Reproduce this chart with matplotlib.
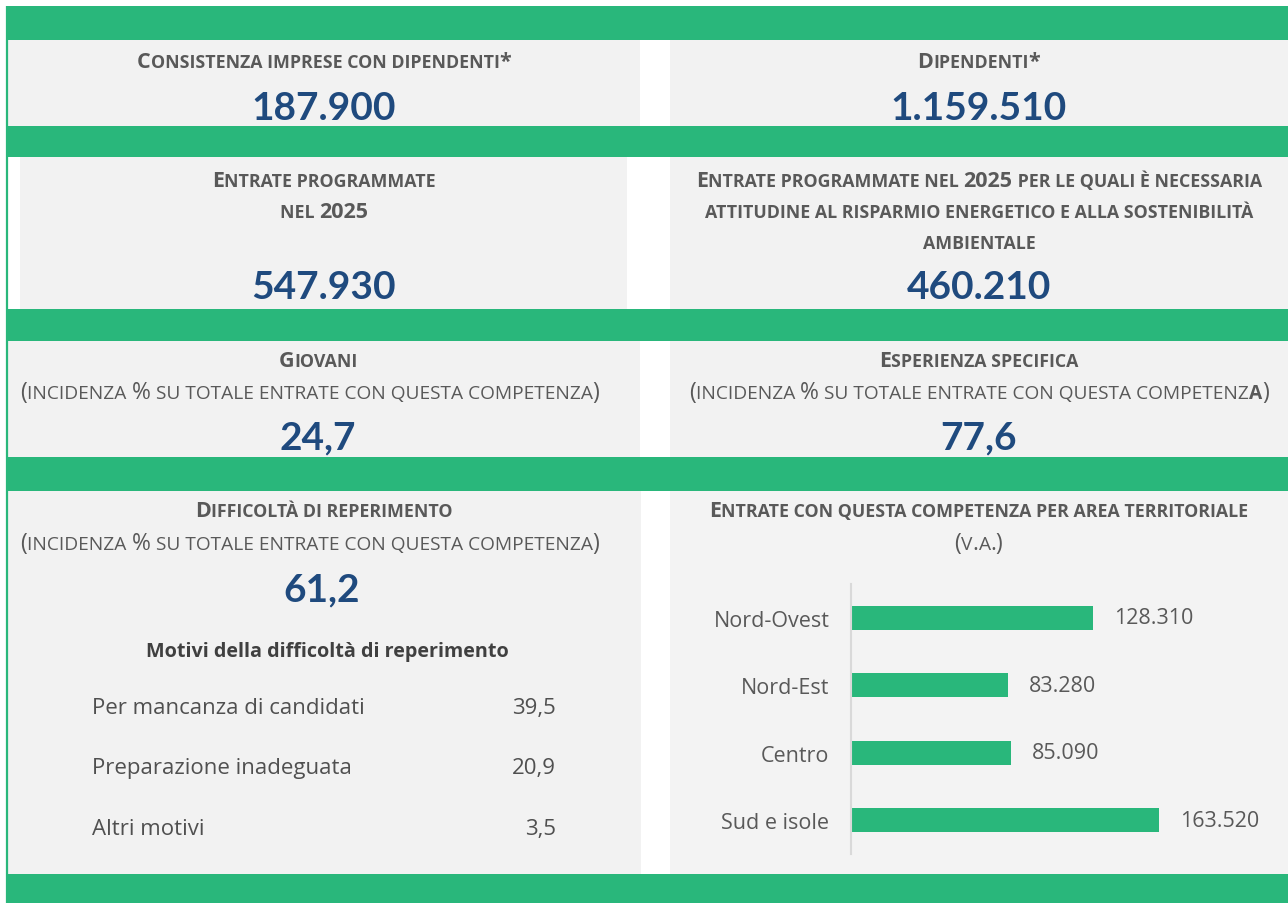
import matplotlib
matplotlib.use("Agg")
import matplotlib.pyplot as plt
from matplotlib.patches import Rectangle

# ---------------- data ----------------
kpi_imprese = 187900
kpi_dipendenti = 1159510
kpi_entrate = 547930
kpi_entrate_green = 460210
kpi_giovani = 24.7
kpi_esperienza = 77.6
kpi_difficolta = 61.2

motivi_labels = ["Per mancanza di candidati", "Preparazione inadeguata", "Altri motivi"]
motivi_values = [39.5, 20.9, 3.5]

regions = ["Nord-Ovest", "Nord-Est", "Centro", "Sud e isole"]
region_values = [128310, 83280, 85090, 163520]

# ---------------- style ----------------
FONT = "Open Sans"
NUMFONT = "Lato"
GREEN = "#29B77B"
PANEL = "#F2F2F2"
BLUE = "#1F4A7E"
GREY = "#595959"
DARK = "#505050"

def it_int(v):
    return f"{v:,}".replace(",", ".")

def it_dec(v):
    return f"{v:.1f}".replace(".", ",")

W, H = 1288, 904
fig = plt.figure(figsize=(W / 100, H / 100), dpi=100)
fig.patch.set_facecolor("white")
ax = fig.add_axes([0, 0, 1, 1])
ax.set_xlim(0, W)
ax.set_ylim(H, 0)
ax.axis("off")

def rect(x0, y0, x1, y1, color):
    ax.add_patch(Rectangle((x0, y0), x1 - x0, y1 - y0, facecolor=color,
                           edgecolor="none", zorder=0))

# green bands
for y0, y1 in [(7, 41), (127, 158), (310, 342), (458, 492), (875, 904)]:
    rect(7, y0, W, y1, GREEN)
# panels
rect(8, 41, 640, 127, PANEL)
rect(670, 41, W, 127, PANEL)
rect(20, 158, 627, 310, PANEL)
rect(670, 158, W, 310, PANEL)
rect(8, 342, 640, 458, PANEL)
rect(670, 342, W, 458, PANEL)
rect(8, 492, 641, 875, PANEL)
rect(670, 492, W, 875, "#F3F3F3")
# left border line
ax.plot([7, 7], [7, 904], color=GREEN, lw=1.6, zorder=1, solid_capstyle="butt")

renderer = fig.canvas.get_renderer()
_cache = {}

def text_width(s, size, weight):
    key = (s, size, weight)
    if key not in _cache:
        def m(t):
            o = ax.text(0, 0, t, fontsize=size, fontweight=weight, family=FONT)
            w = o.get_window_extent(renderer).width
            o.remove()
            return w
        _cache[key] = m("|" + s + "|") - m("||")
    return _cache[key]

def sc_line(cx, y, segments, big, small, color):
    """Small caps line: lowercase chars (and spaces) drawn as small uppercase."""
    runs = []
    for s, weight in segments:
        for ch in s:
            if ch.islower() or ch == " ":
                r = [ch.upper(), small, weight]
            else:
                r = [ch, big, weight]
            if runs and runs[-1][1] == r[1] and runs[-1][2] == r[2]:
                runs[-1][0] += r[0]
            else:
                runs.append(r)
    widths = [text_width(r[0], r[1], r[2]) for r in runs]
    x = cx - sum(widths) / 2
    for r, w in zip(runs, widths):
        ax.text(x, y, r[0], fontsize=r[1], fontweight=r[2], family=FONT,
                color=color, va="baseline", ha="left", zorder=3)
        x += w

def number(cx, y, s):
    ax.text(cx, y, s, fontsize=28, fontweight="bold", family=NUMFONT, color=BLUE,
            ha="center", va="baseline", zorder=3)

HB, HS = 15.5, 12.8   # header big/small sizes
SB, SS = 16.5, 13.8   # sub header

LC, RC = 324, 979
LSUB = 310

# Row 1
sc_line(LC, 68, [("Consistenza imprese con dipendenti*", "bold")], HB, HS, GREY)
number(LC, 120, it_int(kpi_imprese))
sc_line(RC, 68, [("Dipendenti*", "bold")], HB, HS, GREY)
number(RC, 120, it_int(kpi_dipendenti))

# Row 2
sc_line(LC, 187, [("Entrate programmate", "bold")], HB, HS, GREY)
sc_line(LC, 218, [("nel 2025", "bold")], HB, HS, GREY)
number(LC, 299, it_int(kpi_entrate))
sc_line(RC, 187, [("Entrate programmate nel 2025 per le quali è necessaria", "bold")], HB, HS, GREY)
sc_line(RC, 218, [("attitudine al risparmio energetico e alla sostenibilità", "bold")], HB, HS, GREY)
sc_line(RC, 249, [("ambientale", "bold")], HB, HS, GREY)
number(RC, 299, it_int(kpi_entrate_green))

# Row 3
sc_line(LC - 6, 367, [("Giovani", "bold")], HB, HS, GREY)
sc_line(LSUB, 399, [("(incidenza % su totale entrate con questa competenza)", "normal")], SB, SS, GREY)
number(LC - 6, 449, it_dec(kpi_giovani))
sc_line(RC, 367, [("Esperienza specifica", "bold")], HB, HS, GREY)
sc_line(RC, 399, [("(incidenza % su totale entrate con questa competenz", "normal"),
                  ("a", "bold"), (")", "normal")], SB, SS, GREY)
number(RC, 449, it_dec(kpi_esperienza))

# Row 4 left
sc_line(LC, 517, [("Difficoltà di reperimento", "bold")], HB, HS, GREY)
sc_line(LSUB, 550, [("(incidenza % su totale entrate con questa competenza)", "normal")], SB, SS, GREY)
number(LC - 2, 601, it_dec(kpi_difficolta))
ax.text(327, 657, "Motivi della difficoltà di reperimento", fontsize=14.2,
        fontweight="bold", family=FONT, color="#404040", ha="center", va="baseline")
for i, (lab, val) in enumerate(zip(motivi_labels, motivi_values)):
    yy = 714 + i * 60.5
    ax.text(92, yy, lab, fontsize=16, family=FONT, color=DARK, ha="left", va="baseline")
    ax.text(556, yy, it_dec(val), fontsize=16, family=FONT, color=DARK, ha="right", va="baseline")

# Row 4 right
sc_line(RC, 517, [("Entrate con questa competenza per area territoriale", "bold")], HB, HS, GREY)
sc_line(RC, 550, [("(v.a.)", "normal")], SB, SS, GREY)

# bar chart
x0, x1, y0, y1 = 851, 1270, 585, 855
bax = fig.add_axes([x0 / W, 1 - y1 / H, (x1 - x0) / W, (y1 - y0) / H])
bax.set_facecolor("none")
ypos = list(range(len(regions)))
bars = bax.barh(ypos, region_values, height=0.355, color=GREEN, zorder=2)
bax.set_ylim(len(regions) - 0.5, -0.5)
bax.set_xlim(0, (x1 - x0) / 0.001885)
bax.set_yticks(ypos)
bax.set_yticklabels(regions, fontsize=15.5, family=FONT, color=GREY)
bax.tick_params(axis="y", left=False, pad=12)
bax.set_xticks([])
for s in ["top", "right", "bottom"]:
    bax.spines[s].set_visible(False)
bax.spines["left"].set_color("#D9D9D9")
bax.spines["left"].set_linewidth(1.5)
bax.bar_label(bars, labels=[it_int(v) for v in region_values], padding=15,
              fontsize=15.5, family=FONT, color=GREY)

fig.savefig("out.png", dpi=100, facecolor="white")
